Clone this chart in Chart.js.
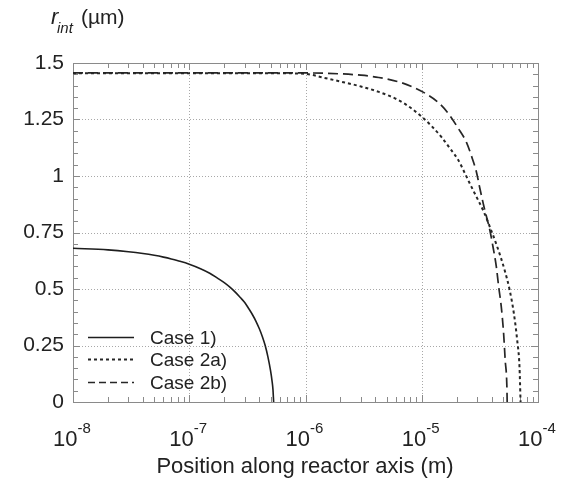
<!DOCTYPE html>
<html>
<head>
<meta charset="utf-8">
<script src="https://cdn.jsdelivr.net/npm/chart.js@4.4.1/dist/chart.umd.min.js"></script>
<style>
  body { margin: 0; background: #fff; }
  #wrap { width: 574px; height: 481px; position: relative; }
</style>
</head>
<body>
<div id="wrap"><canvas id="graph"></canvas></div>
<script>
// valeurs (x en m, r_int en µm)
const case1X = [1e-8, 2e-8, 3e-8, 4e-8, 5e-8, 6e-8, 7e-8, 8e-8, 1e-7, 1.25e-7, 1.5e-7, 1.75e-7, 2e-7, 2.25e-7, 2.5e-7, 2.75e-7, 3e-7, 3.25e-7, 3.5e-7, 3.75e-7, 4e-7, 4.25e-7, 4.5e-7, 4.75e-7, 5e-7, 5.15e-7, 5.25e-7, 5.32e-7];
const case1Y = [0.68, 0.673, 0.665, 0.657, 0.649, 0.641, 0.633, 0.625, 0.61, 0.59, 0.57, 0.548, 0.528, 0.507, 0.485, 0.462, 0.44, 0.413, 0.386, 0.357, 0.325, 0.29, 0.25, 0.2, 0.14, 0.095, 0.055, 0];

const case2aX = [1e-8, 1e-7, 5e-7, 1e-6, 1.4e-6, 2e-6, 3e-6, 4.27e-6, 6.3e-6, 8.2e-6, 1e-5, 1.22e-5, 1.48e-5, 1.75e-5, 2.06e-5, 2.35e-5, 2.67e-5, 3.05e-5, 3.43e-5, 3.85e-5, 4.46e-5, 5.16e-5, 5.7e-5, 6.2e-5, 6.62e-5, 6.93e-5, 7.08e-5];
const case2aY = [1.455, 1.455, 1.455, 1.452, 1.436, 1.418, 1.396, 1.372, 1.336, 1.298, 1.262, 1.22, 1.172, 1.122, 1.071, 1.012, 0.953, 0.894, 0.84, 0.775, 0.687, 0.584, 0.496, 0.392, 0.274, 0.156, 0];

const case2bX = [1e-8, 1e-7, 1e-6, 2e-6, 3e-6, 4.27e-6, 6.3e-6, 8.2e-6, 1.07e-5, 1.39e-5, 1.69e-5, 2.06e-5, 2.43e-5, 2.67e-5, 2.95e-5, 3.16e-5, 3.43e-5, 3.85e-5, 4.1e-5, 4.38e-5, 4.59e-5, 4.83e-5, 5.06e-5, 5.22e-5, 5.4e-5, 5.43e-5];
const case2bY = [1.456, 1.456, 1.456, 1.452, 1.446, 1.436, 1.417, 1.396, 1.366, 1.325, 1.277, 1.211, 1.148, 1.09, 1.019, 0.946, 0.864, 0.761, 0.687, 0.599, 0.51, 0.422, 0.304, 0.186, 0.068, 0];

const decades = [-8, -7, -6, -5, -4];
const yTicks = [0, 0.25, 0.5, 0.75, 1, 1.25, 1.5];
const legendLabels = ['Case 1)', 'Case 2a)', 'Case 2b)'];

const police = '"Liberation Sans", Arial, sans-serif';

function points(xs, ys) {
  return xs.map((x, i) => ({ x: x, y: ys[i] }));
}

// grille pointillée, cadre, petites graduations, libellés, légende
const decor = {
  id: 'decor',
  beforeDatasetsDraw(chart) {
    const ctx = chart.ctx;
    const a = chart.chartArea;
    const xs = chart.scales.x;
    const ys = chart.scales.y;
    ctx.save();
    ctx.strokeStyle = '#a8a8a8';
    ctx.lineWidth = 1;
    ctx.setLineDash([1, 2]);
    decades.forEach(d => {
      const px = Math.round(xs.getPixelForValue(Math.pow(10, d))) + 0.5;
      ctx.beginPath();
      ctx.moveTo(px, a.top);
      ctx.lineTo(px, a.bottom);
      ctx.stroke();
    });
    yTicks.forEach(v => {
      const py = Math.round(ys.getPixelForValue(v)) + 0.5;
      ctx.beginPath();
      ctx.moveTo(a.left, py);
      ctx.lineTo(a.right, py);
      ctx.stroke();
    });
    ctx.setLineDash([]);
    ctx.strokeStyle = '#8a8a8a';
    // petites graduations en x
    decades.forEach(d => {
      for (let k = 1; k <= 9; k++) {
        const v = k * Math.pow(10, d);
        if (v > 1e-4 * 1.0001) continue;
        const px = Math.round(xs.getPixelForValue(v)) + 0.5;
        const len = k === 1 ? 7 : 5;
        ctx.beginPath();
        ctx.moveTo(px, a.bottom);
        ctx.lineTo(px, a.bottom - len);
        ctx.moveTo(px, a.top);
        ctx.lineTo(px, a.top + len);
        ctx.stroke();
      }
    });
    // petites graduations en y
    for (let i = 0; i <= 30; i++) {
      const py = Math.round(ys.getPixelForValue(i * 0.05)) + 0.5;
      const len = i % 5 === 0 ? 7 : 5;
      ctx.beginPath();
      ctx.moveTo(a.left, py);
      ctx.lineTo(a.left + len, py);
      ctx.moveTo(a.right, py);
      ctx.lineTo(a.right - len, py);
      ctx.stroke();
    }
    ctx.strokeRect(Math.round(a.left) + 0.5, Math.round(a.top) + 0.5, Math.round(a.right - a.left), Math.round(a.bottom - a.top));
    ctx.restore();
  },
  afterDraw(chart) {
    const ctx = chart.ctx;
    const xs = chart.scales.x;
    ctx.save();
    ctx.fillStyle = '#222';
    ctx.textBaseline = 'alphabetic';
    // libellés 10^n
    decades.forEach(d => {
      const px = xs.getPixelForValue(Math.pow(10, d));
      ctx.font = '22px ' + police;
      const wBase = ctx.measureText('10').width;
      ctx.font = '15px ' + police;
      const exp = String(d);
      const wExp = ctx.measureText(exp).width;
      const x0 = px - (wBase + wExp) / 2 - 1;
      ctx.font = '22px ' + police;
      ctx.textAlign = 'left';
      ctx.fillText('10', x0, 446);
      ctx.font = '15px ' + police;
      ctx.fillText(exp, x0 + wBase, 433);
    });
    // titre axe x
    ctx.font = '22px ' + police;
    ctx.textAlign = 'center';
    ctx.fillText('Position along reactor axis (m)', 305, 473);
    // titre axe y : r_int (µm)
    ctx.textAlign = 'left';
    ctx.font = 'italic 22px ' + police;
    ctx.fillText('r', 51, 24);
    ctx.font = 'italic 15px ' + police;
    ctx.fillText('int', 57, 33);
    ctx.font = '21px ' + police;
    ctx.fillText('(\u00b5m)', 81, 24);
    // légende
    const rows = [337, 359, 382];
    chart.data.datasets.forEach((ds, i) => {
      ctx.strokeStyle = ds.borderColor;
      ctx.lineWidth = ds.borderWidth;
      ctx.setLineDash(ds.legendDash);
      ctx.beginPath();
      ctx.moveTo(88, rows[i] + 0.5);
      ctx.lineTo(134, rows[i] + 0.5);
      ctx.stroke();
      ctx.setLineDash([]);
      ctx.font = '19px ' + police;
      ctx.fillStyle = '#222';
      ctx.fillText(legendLabels[i], 150, rows[i] + 7);
    });
    ctx.restore();
  }
};

const ctx = document.getElementById('graph').getContext('2d');
const chart = new Chart(ctx, {
  type: 'line',
  data: {
    datasets: [
      {
        label: legendLabels[0],
        data: points(case1X, case1Y),
        borderColor: '#1e1e1e',
        borderWidth: 1.6,
        borderDash: [],
        legendDash: [],
        pointRadius: 0,
        cubicInterpolationMode: 'monotone'
      },
      {
        label: legendLabels[1],
        data: points(case2aX, case2aY),
        borderColor: '#262626',
        borderWidth: 2,
        borderDash: [3, 3],
        legendDash: [3, 3],
        pointRadius: 0,
        cubicInterpolationMode: 'monotone'
      },
      {
        label: legendLabels[2],
        data: points(case2bX, case2bY),
        borderColor: '#262626',
        borderWidth: 1.7,
        borderDash: [10, 5],
        legendDash: [7, 4],
        pointRadius: 0,
        cubicInterpolationMode: 'monotone'
      }
    ]
  },
  options: {
    responsive: true,
    maintainAspectRatio: false,
    animation: false,
    events: [],
    layout: { padding: { top: 63, right: 36, left: 0, bottom: 0 } },
    plugins: {
      legend: { display: false },
      tooltip: { enabled: false }
    },
    scales: {
      x: {
        type: 'logarithmic',
        min: 1e-8,
        max: 1e-4,
        afterBuildTicks: scale => {
          scale.ticks = decades.map(d => ({ value: Math.pow(10, d) }));
        },
        afterFit: scale => { scale.height = 79; },
        ticks: { display: false },
        grid: { display: false },
        border: { display: false }
      },
      y: {
        type: 'linear',
        min: 0,
        max: 1.5,
        afterBuildTicks: scale => {
          scale.ticks = yTicks.map(v => ({ value: v }));
        },
        afterFit: scale => { scale.width = 73; },
        ticks: {
          padding: 9,
          color: '#222',
          font: { family: police, size: 21 },
          callback: v => String(v)
        },
        grid: { display: false, drawTicks: false },
        border: { display: false }
      }
    }
  },
  plugins: [decor]
});
</script>
</body>
</html>
